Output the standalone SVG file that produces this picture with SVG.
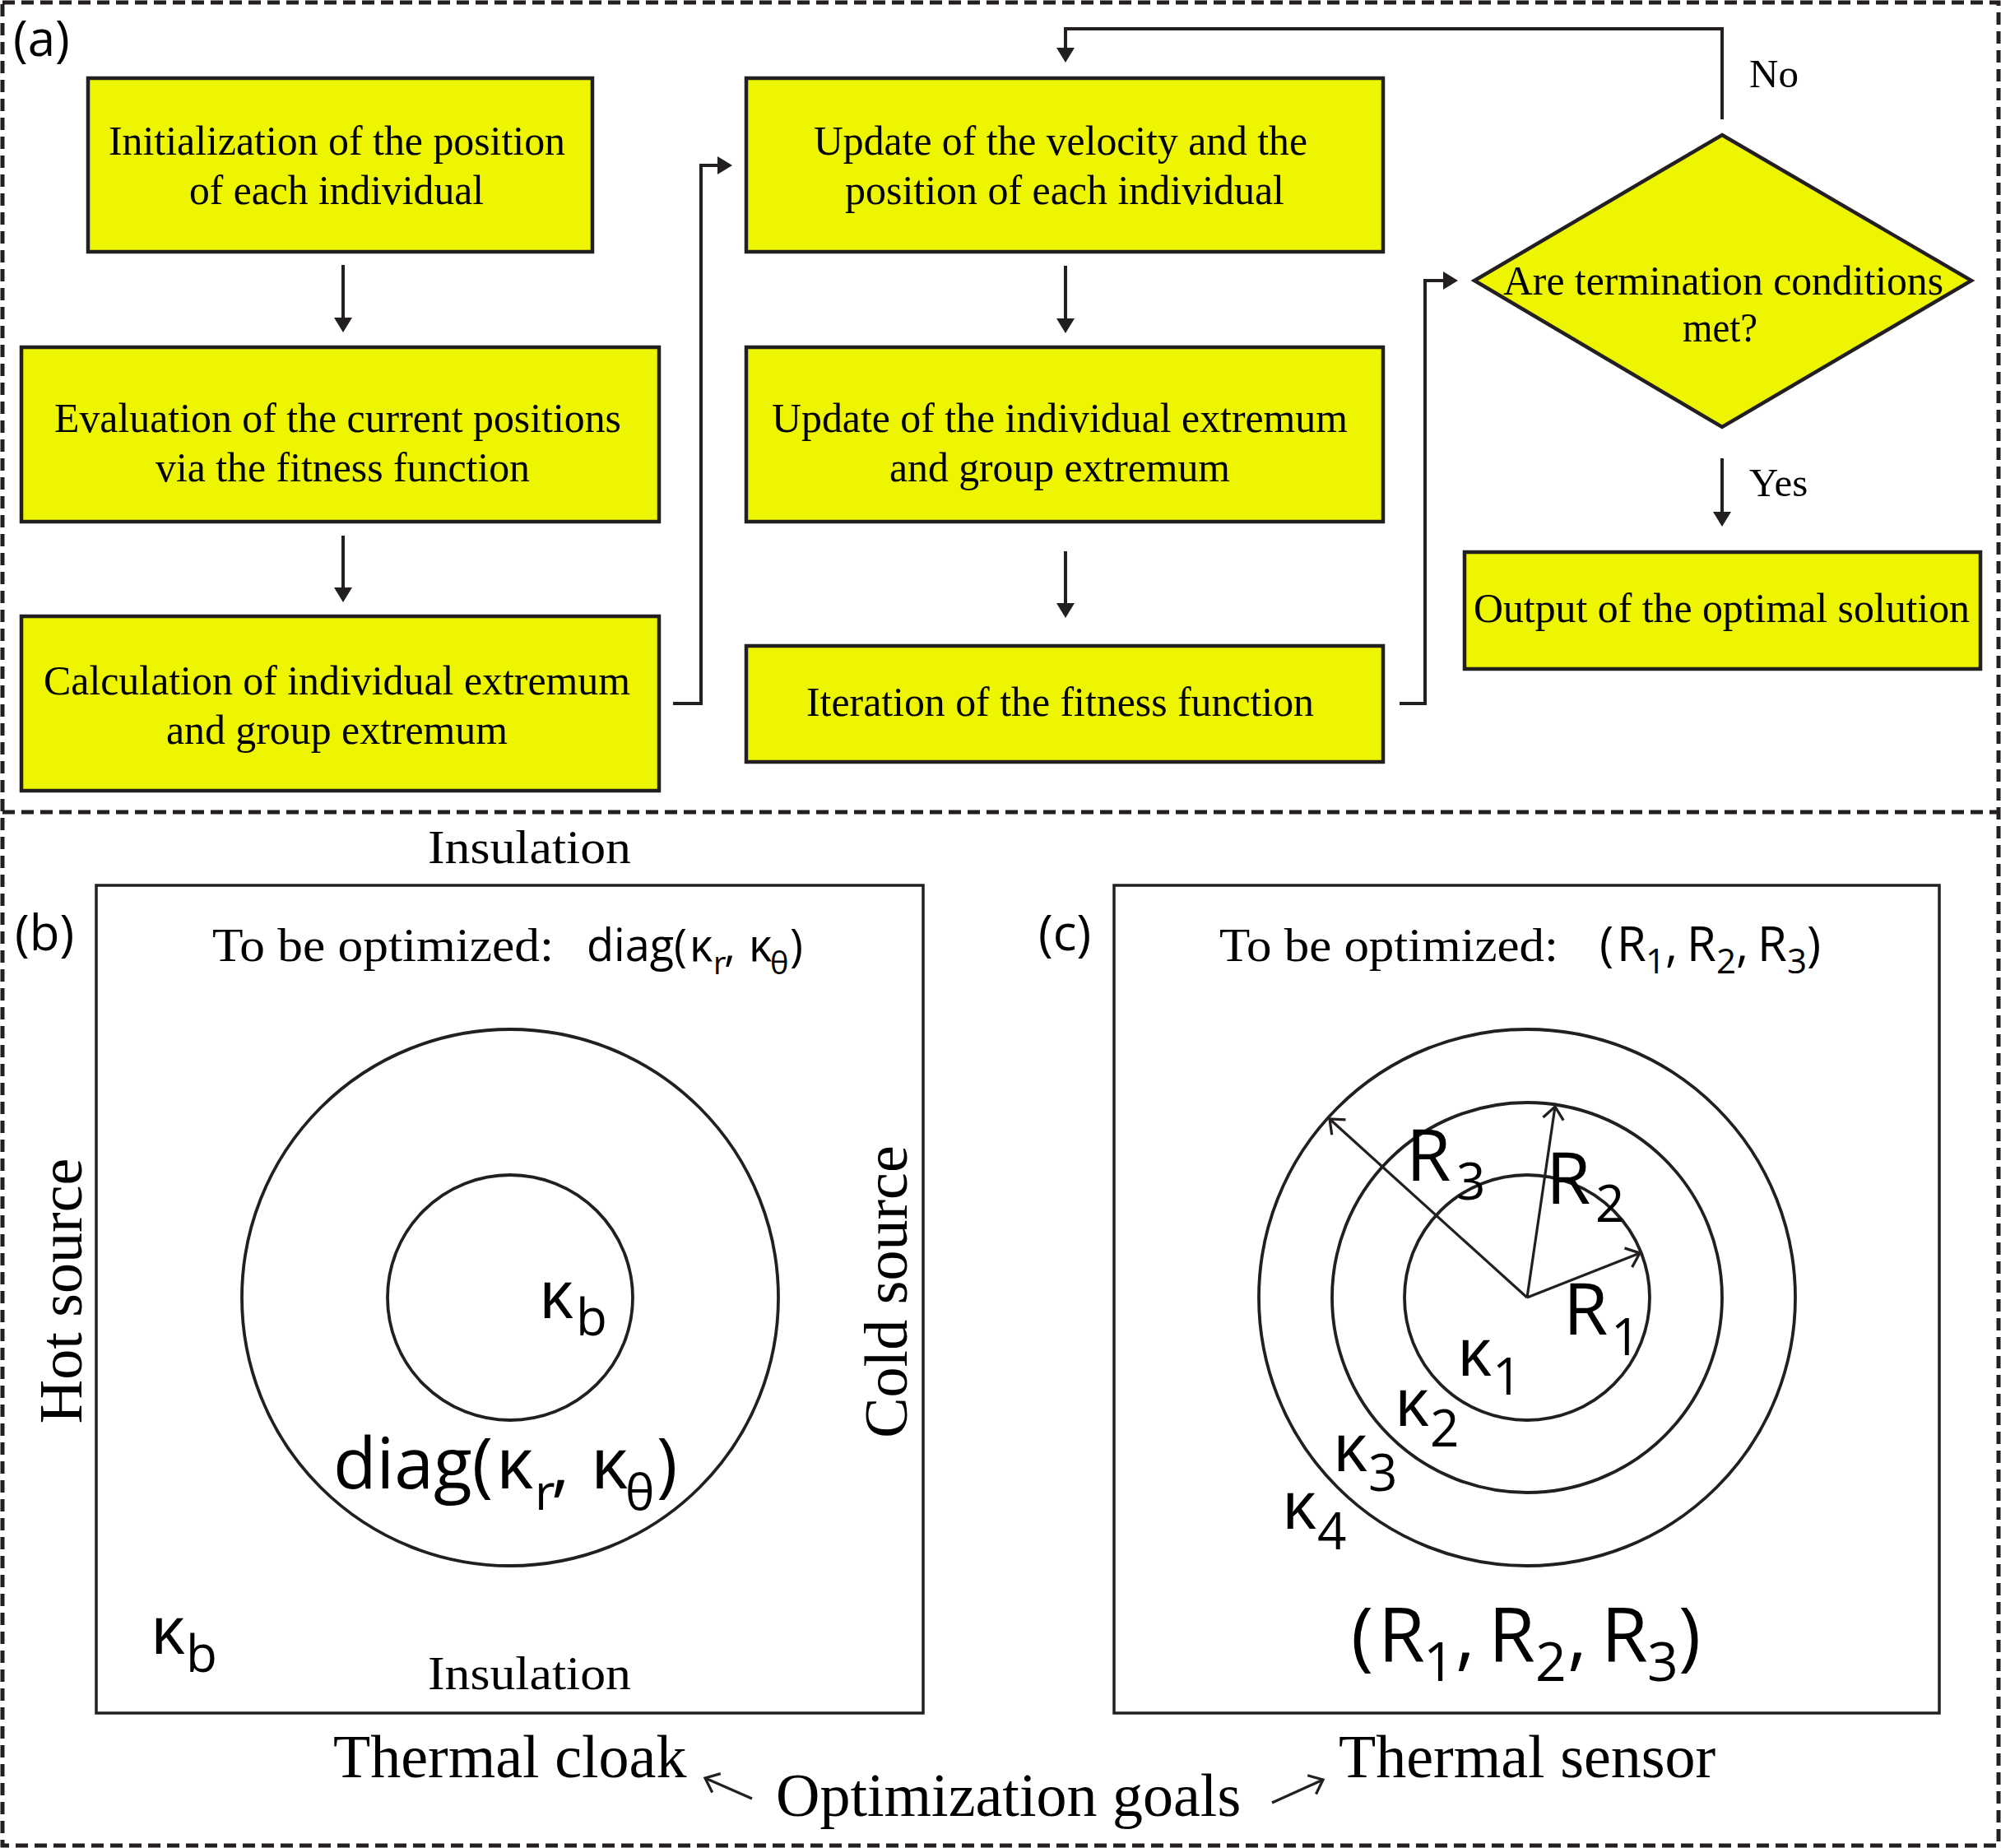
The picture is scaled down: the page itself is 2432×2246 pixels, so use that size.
<svg xmlns="http://www.w3.org/2000/svg" width="2432" height="2246" viewBox="0 0 2432 2246">
<style>
.frame{fill:none;stroke:#231f20;stroke-width:5;stroke-dasharray:15 8}
.box{fill:#edf500;stroke:#231f20;stroke-width:4.5}
.serif{font-family:"Liberation Serif","Times New Roman",serif;fill:#000}
.sans{font-family:"Open Sans","Noto Sans",sans-serif;fill:#000}
.bt{font-size:50px}
.conn{fill:none;stroke:#231f20;stroke-width:4}
.thin{fill:none;stroke:#231f20;stroke-width:3.5}
.ring{fill:none;stroke:#231f20;stroke-width:3.8}
.rad{fill:none;stroke:#231f20;stroke-width:3.2}
.k{font-size:80px;font-weight:500}
.ks{font-size:62px}
.rr{font-size:88px}
.big{font-size:74px}
</style>
<defs>
<marker id="fill" viewBox="0 0 18 22" markerWidth="18" markerHeight="22" refX="14" refY="11" orient="auto" markerUnits="userSpaceOnUse">
<path d="M0,0 L18,11 L0,22 z" fill="#231f20"/>
</marker>
<marker id="open" viewBox="-2 -2 24 24" markerWidth="30" markerHeight="30" refX="18" refY="10" orient="auto" markerUnits="userSpaceOnUse">
<path d="M6,0 L18,10 L6,20" fill="none" stroke="#231f20" stroke-width="2.6"/>
</marker>
</defs>
<rect width="2432" height="2246" fill="#fff"/>
<g id="frame">
<rect class="frame" x="3" y="3" width="2426" height="2240"/>
<line class="frame" x1="3" y1="987" x2="2429" y2="987"/>
</g>
<text class="sans" x="16" y="68" font-size="60">(a)</text>
<g id="n-init">
<rect class="box" x="107" y="95" width="613" height="211"/>
<text class="serif bt" x="132" y="188" textLength="555" lengthAdjust="spacingAndGlyphs">Initialization of the position</text>
<text class="serif bt" x="230" y="248" textLength="358" lengthAdjust="spacingAndGlyphs">of each individual</text>
</g>
<g id="n-eval">
<rect class="box" x="26" y="422" width="775" height="212"/>
<text class="serif bt" x="66" y="525" textLength="689" lengthAdjust="spacingAndGlyphs">Evaluation of the current positions</text>
<text class="serif bt" x="189" y="585" textLength="455" lengthAdjust="spacingAndGlyphs">via the fitness function</text>
</g>
<g id="n-calc">
<rect class="box" x="26" y="749" width="775" height="212"/>
<text class="serif bt" x="53" y="844" textLength="713" lengthAdjust="spacingAndGlyphs">Calculation of individual extremum</text>
<text class="serif bt" x="202" y="904" textLength="415" lengthAdjust="spacingAndGlyphs">and group extremum</text>
</g>
<g id="n-update-velocity">
<rect class="box" x="907" y="95" width="774" height="211"/>
<text class="serif bt" x="989" y="188" textLength="600" lengthAdjust="spacingAndGlyphs">Update of the velocity and the</text>
<text class="serif bt" x="1027" y="248" textLength="534" lengthAdjust="spacingAndGlyphs">position of each individual</text>
</g>
<g id="n-update-extremum">
<rect class="box" x="907" y="422" width="774" height="212"/>
<text class="serif bt" x="938" y="525" textLength="700" lengthAdjust="spacingAndGlyphs">Update of the individual extremum</text>
<text class="serif bt" x="1081" y="585" textLength="414" lengthAdjust="spacingAndGlyphs">and group extremum</text>
</g>
<g id="n-iteration">
<rect class="box" x="907" y="785" width="774" height="141"/>
<text class="serif bt" x="980" y="870" textLength="617" lengthAdjust="spacingAndGlyphs">Iteration of the fitness function</text>
</g>
<g id="n-decision">
<polygon class="box" points="2093,164 2396,341 2093,519 1792,341"/>
<text class="serif bt" x="1827" y="358" textLength="535" lengthAdjust="spacingAndGlyphs">Are termination conditions</text>
<text class="serif bt" x="2045" y="415" textLength="91" lengthAdjust="spacingAndGlyphs">met?</text>
</g>
<g id="n-output">
<rect class="box" x="1780" y="671" width="627" height="142"/>
<text class="serif bt" x="1791" y="756" textLength="603" lengthAdjust="spacingAndGlyphs">Output of the optimal solution</text>
</g>
<g id="connectors">
<line class="conn" x1="417" y1="322" x2="417" y2="400" marker-end="url(#fill)"/>
<line class="conn" x1="417" y1="651" x2="417" y2="728" marker-end="url(#fill)"/>
<path class="conn" d="M818,855 H852 V201 H886" marker-end="url(#fill)"/>
<line class="conn" x1="1295" y1="323" x2="1295" y2="401" marker-end="url(#fill)"/>
<line class="conn" x1="1295" y1="670" x2="1295" y2="747" marker-end="url(#fill)"/>
<path class="conn" d="M1701,855 H1732 V341 H1768" marker-end="url(#fill)"/>
<path class="conn" d="M2093,145 V35 H1295 V72" marker-end="url(#fill)"/>
<line class="conn" x1="2093" y1="557" x2="2093" y2="636" marker-end="url(#fill)"/>
<line class="rad" x1="914" y1="2186" x2="857" y2="2161" marker-end="url(#open)"/>
<line class="rad" x1="1546" y1="2191" x2="1608" y2="2163" marker-end="url(#open)"/>
</g>
<text class="serif" x="2126" y="106" font-size="49">No</text>
<text class="serif" x="2126" y="603" font-size="49">Yes</text>
<g id="panel-b">
<rect class="thin" x="117" y="1076" width="1005" height="1006"/>
<text class="sans" x="18" y="1155" font-size="60">(b)</text>
<text class="serif" x="520" y="1049" font-size="58" textLength="247" lengthAdjust="spacingAndGlyphs">Insulation</text>
<text class="serif" x="520" y="2053" font-size="58" textLength="247" lengthAdjust="spacingAndGlyphs">Insulation</text>
<text class="serif" x="258" y="1168" font-size="58" textLength="415" lengthAdjust="spacingAndGlyphs">To be optimized:</text>
<text class="sans" font-size="54"><tspan x="713" y="1168">diag(</tspan><tspan x="838" y="1168">κ</tspan><tspan x="867" y="1184" font-size="38">r</tspan><tspan x="880" y="1168">,</tspan><tspan x="910" y="1168">κ</tspan><tspan x="936" y="1184" font-size="38">θ</tspan><tspan x="960" y="1168">)</tspan></text>
<text class="serif big" transform="translate(99,1569) rotate(-90)" text-anchor="middle">Hot source</text>
<text class="serif big" transform="translate(1102,1570) rotate(-90)" text-anchor="middle">Cold source</text>
<circle class="ring" cx="620" cy="1577" r="326"/>
<circle class="ring" cx="620" cy="1577" r="149"/>
<text class="sans"><tspan class="k" x="655" y="1602">κ</tspan><tspan class="ks" x="700" y="1623">b</tspan></text>
<text class="sans" font-size="86"><tspan x="405" y="1809">diag(</tspan><tspan x="603" y="1809">κ</tspan><tspan x="650" y="1835" font-size="60">r</tspan><tspan x="670" y="1809">,</tspan><tspan x="718" y="1809">κ</tspan><tspan x="760" y="1835" font-size="60">θ</tspan><tspan x="798" y="1809">)</tspan></text>
<text class="sans"><tspan class="k" x="183" y="2010">κ</tspan><tspan class="ks" x="226" y="2032">b</tspan></text>
<text class="serif big" x="405" y="2160">Thermal cloak</text>
</g>
<text class="serif big" x="943" y="2207">Optimization goals</text>
<g id="panel-c">
<rect class="thin" x="1354" y="1076" width="1003" height="1006"/>
<text class="sans" x="1262" y="1155" font-size="60">(c)</text>
<text class="serif" x="1482" y="1168" font-size="58" textLength="412" lengthAdjust="spacingAndGlyphs">To be optimized:</text>
<text class="sans" font-size="58"><tspan x="1944" y="1168">(</tspan><tspan x="1965" y="1168">R</tspan><tspan x="2000" y="1183" font-size="42">1</tspan><tspan x="2024" y="1168">,</tspan><tspan x="2050" y="1168">R</tspan><tspan x="2086" y="1183" font-size="42">2</tspan><tspan x="2110" y="1168">,</tspan><tspan x="2136" y="1168">R</tspan><tspan x="2172" y="1183" font-size="42">3</tspan><tspan x="2196" y="1168">)</tspan></text>
<circle class="ring" cx="1856" cy="1577" r="326"/>
<circle class="ring" cx="1856" cy="1577" r="237"/>
<circle class="ring" cx="1856" cy="1577" r="149"/>
<line class="rad" x1="1856" y1="1577" x2="1616" y2="1360" marker-end="url(#open)"/>
<line class="rad" x1="1856" y1="1577" x2="1890" y2="1345" marker-end="url(#open)"/>
<line class="rad" x1="1856" y1="1577" x2="1993" y2="1523" marker-end="url(#open)"/>
<text class="sans"><tspan class="rr" x="1709" y="1435">R</tspan><tspan class="ks" x="1770" y="1458">3</tspan></text>
<text class="sans"><tspan class="rr" x="1879" y="1463">R</tspan><tspan class="ks" x="1939" y="1485">2</tspan></text>
<text class="sans"><tspan class="rr" x="1900" y="1622">R</tspan><tspan class="ks" x="1958" y="1647">1</tspan></text>
<text class="sans"><tspan class="k" x="1771" y="1672">κ</tspan><tspan class="ks" x="1814" y="1695">1</tspan></text>
<text class="sans"><tspan class="k" x="1695" y="1733">κ</tspan><tspan class="ks" x="1738" y="1758">2</tspan></text>
<text class="sans"><tspan class="k" x="1620" y="1788">κ</tspan><tspan class="ks" x="1663" y="1812">3</tspan></text>
<text class="sans"><tspan class="k" x="1558" y="1858">κ</tspan><tspan class="ks" x="1601" y="1883">4</tspan></text>
<text class="sans" font-size="92"><tspan x="1642" y="2019">(</tspan><tspan x="1675" y="2019">R</tspan><tspan x="1730" y="2043" font-size="66">1</tspan><tspan x="1769" y="2019">,</tspan><tspan x="1809" y="2019">R</tspan><tspan x="1866" y="2043" font-size="66">2</tspan><tspan x="1905" y="2019">,</tspan><tspan x="1946" y="2019">R</tspan><tspan x="2002" y="2043" font-size="66">3</tspan><tspan x="2040" y="2019">)</tspan></text>
<text class="serif big" x="1627" y="2160">Thermal sensor</text>
</g>
</svg>
